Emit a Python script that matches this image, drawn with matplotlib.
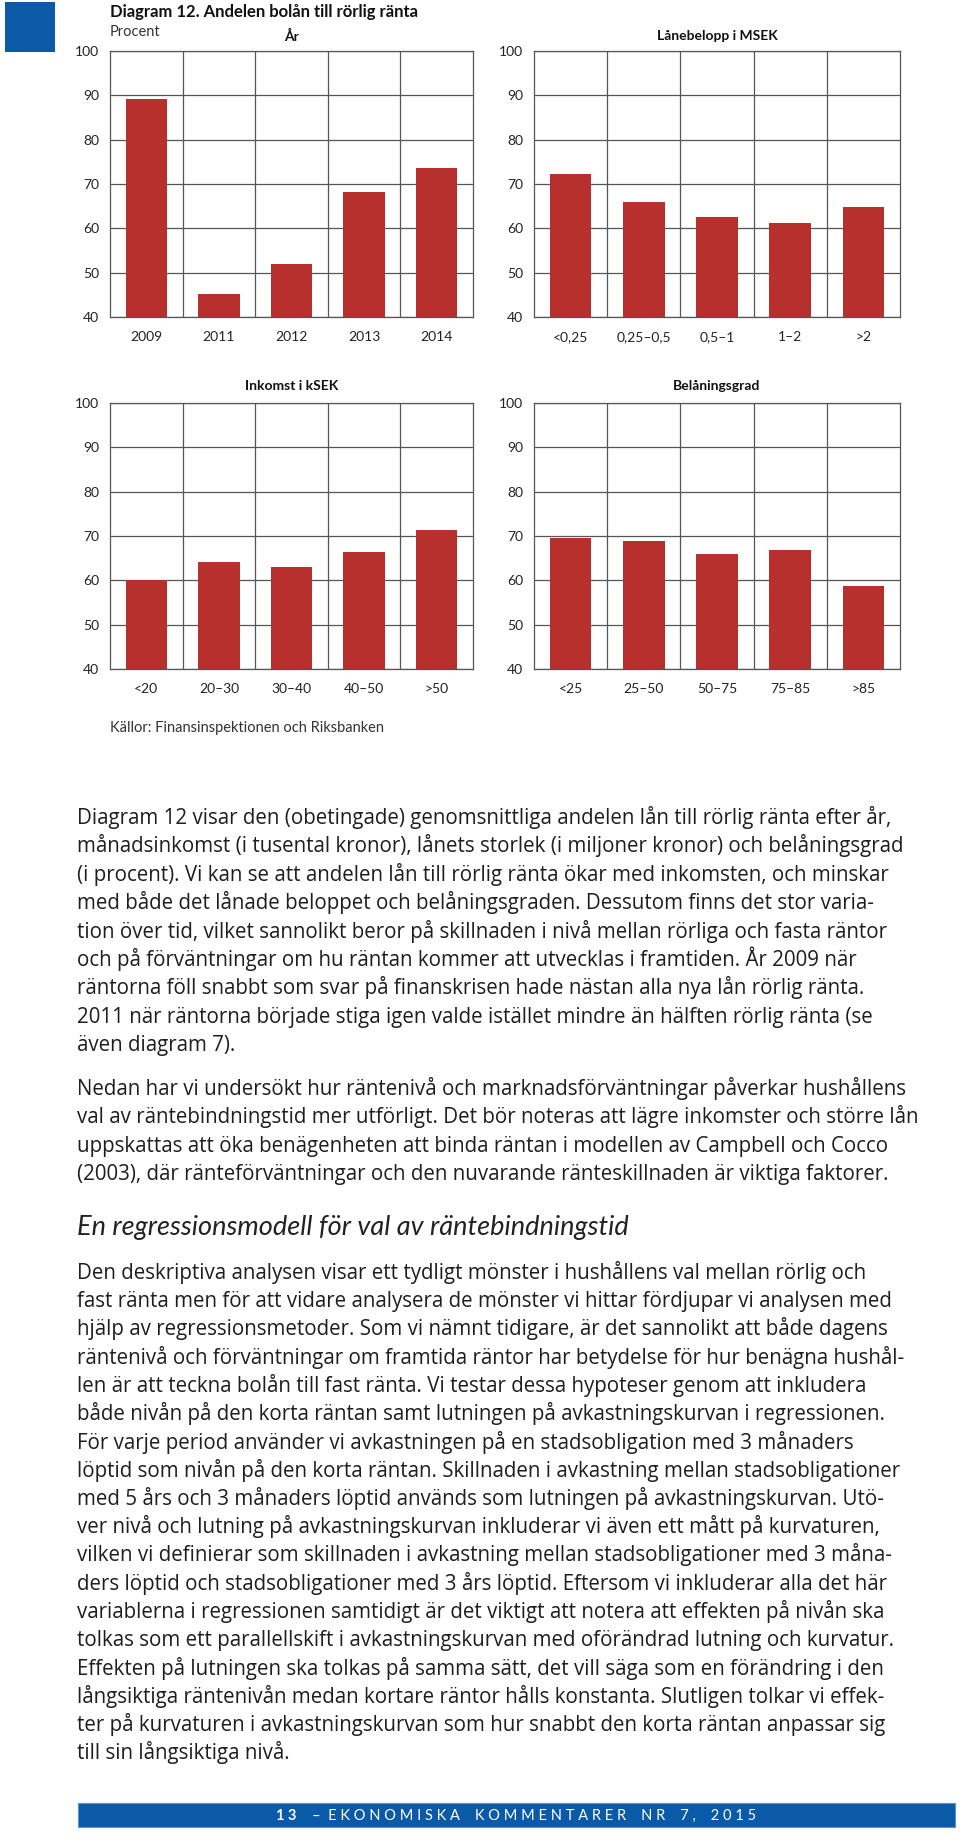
import matplotlib
matplotlib.use('Agg')
import matplotlib.pyplot as plt
from matplotlib.patches import Rectangle

W, H = 960, 1837

# --- chart data (andel lån till rörlig ränta, procent) ---
ar_labels = ['2009', '2011', '2012', '2013', '2014']
ar_values = [89.2, 45.2, 51.9, 68.1, 73.7]

lan_labels = ['<0,25', '0,25–0,5', '0,5–1', '1–2', '>2']
lan_values = [72.2, 65.9, 62.6, 61.1, 64.7]

ink_labels = ['<20', '20–30', '30–40', '40–50', '>50']
ink_values = [60.1, 64.2, 62.9, 66.3, 71.3]

bel_labels = ['<25', '25–50', '50–75', '75–85', '>85']
bel_values = [69.5, 68.8, 65.9, 66.9, 58.8]

y_ticks = [40, 50, 60, 70, 80, 90, 100]

# --- body text ---
para1 = [
    "Diagram 12 visar den (obetingade) genomsnittliga andelen lån till rörlig ränta efter år,",
    "månadsinkomst (i tusental kronor), lånets storlek (i miljoner kronor) och belåningsgrad",
    "(i procent). Vi kan se att andelen lån till rörlig ränta ökar med inkomsten, och minskar",
    "med både det lånade beloppet och belåningsgraden. Dessutom finns det stor varia-",
    "tion över tid, vilket sannolikt beror på skillnaden i nivå mellan rörliga och fasta räntor",
    "och på förväntningar om hu räntan kommer att utvecklas i framtiden. År 2009 när",
    "räntorna föll snabbt som svar på finanskrisen hade nästan alla nya lån rörlig ränta.",
    "2011 när räntorna började stiga igen valde istället mindre än hälften rörlig ränta (se",
    "även diagram 7).",
]
para2 = [
    "Nedan har vi undersökt hur räntenivå och marknadsförväntningar påverkar hushållens",
    "val av räntebindningstid mer utförligt. Det bör noteras att lägre inkomster och större lån",
    "uppskattas att öka benägenheten att binda räntan i modellen av Campbell och Cocco",
    "(2003), där ränteförväntningar och den nuvarande ränteskillnaden är viktiga faktorer.",
]
heading = "En regressionsmodell för val av räntebindningstid"
para3 = [
    "Den deskriptiva analysen visar ett tydligt mönster i hushållens val mellan rörlig och",
    "fast ränta men för att vidare analysera de mönster vi hittar fördjupar vi analysen med",
    "hjälp av regressionsmetoder. Som vi nämnt tidigare, är det sannolikt att både dagens",
    "räntenivå och förväntningar om framtida räntor har betydelse för hur benägna hushål-",
    "len är att teckna bolån till fast ränta. Vi testar dessa hypoteser genom att inkludera",
    "både nivån på den korta räntan samt lutningen på avkastningskurvan i regressionen.",
    "För varje period använder vi avkastningen på en stadsobligation med 3 månaders",
    "löptid som nivån på den korta räntan. Skillnaden i avkastning mellan stadsobligationer",
    "med 5 års och 3 månaders löptid används som lutningen på avkastningskurvan. Utö-",
    "ver nivå och lutning på avkastningskurvan inkluderar vi även ett mått på kurvaturen,",
    "vilken vi definierar som skillnaden i avkastning mellan stadsobligationer med 3 måna-",
    "ders löptid och stadsobligationer med 3 års löptid. Eftersom vi inkluderar alla det här",
    "variablerna i regressionen samtidigt är det viktigt att notera att effekten på nivån ska",
    "tolkas som ett parallellskift i avkastningskurvan med oförändrad lutning och kurvatur.",
    "Effekten på lutningen ska tolkas på samma sätt, det vill säga som en förändring i den",
    "långsiktiga räntenivån medan kortare räntor hålls konstanta. Slutligen tolkar vi effek-",
    "ter på kurvaturen i avkastningskurvan som hur snabbt den korta räntan anpassar sig",
    "till sin långsiktiga nivå.",
]

RED = '#b8302e'
BLUE = '#0b5aa8'
GRID = '#555555'
TEXT = '#1e1e1e'

plt.rcParams['font.family'] = ['Lato', 'DejaVu Sans']

fig = plt.figure(figsize=(W / 100, H / 100), dpi=100)


def fx(px):
    return px / W


def fy(py):
    return 1 - py / H


def px_axes(x0, y0, x1, y1):
    return fig.add_axes([fx(x0), fy(y1), (x1 - x0) / W, (y1 - y0) / H])


def bar_panel(ax, labels, values, title, title_y):
    """ Ett stapeldiagram med rutnät som i förlagan """
    x = list(range(len(labels)))
    ax.bar(x, values, width=0.57, color=RED, zorder=2)
    ax.set_xlim(-0.5, len(labels) - 0.5)
    ax.set_ylim(40, 100)
    ax.set_yticks(y_ticks)
    ax.set_xticks(x)
    ax.set_xticklabels(labels)
    ax.set_xticks([i + 0.5 for i in x[:-1]], minor=True)
    ax.set_axisbelow(True)
    ax.yaxis.grid(True, color=GRID, lw=0.9)
    ax.xaxis.grid(True, which='minor', color=GRID, lw=0.9)
    ax.tick_params(which='both', length=0)
    ax.tick_params(axis='y', pad=8, labelsize=10, labelcolor='#222222')
    ax.tick_params(axis='x', pad=10, labelsize=10, labelcolor='#222222')
    for sp in ax.spines.values():
        sp.set_color(GRID)
        sp.set_linewidth(0.9)
    pos = ax.get_position()
    fig.text(pos.x0 + pos.width / 2, fy(title_y), title, ha='center', va='center',
             fontsize=10, fontweight='bold', color='#111111')


ax1 = px_axes(110, 51, 473, 317)
bar_panel(ax1, ar_labels, ar_values, 'År', 36)
ax2 = px_axes(534, 51, 900, 317)
bar_panel(ax2, lan_labels, lan_values, 'Lånebelopp i MSEK', 36)
ax3 = px_axes(110, 403, 473, 669)
bar_panel(ax3, ink_labels, ink_values, 'Inkomst i kSEK', 386)
ax4 = px_axes(534, 403, 900, 669)
bar_panel(ax4, bel_labels, bel_values, 'Belåningsgrad', 386)

# blå ruta och rubrik
fig.patches.append(Rectangle((fx(5), fy(52)), 50 / W, 50 / H, transform=fig.transFigure,
                             facecolor=BLUE, edgecolor='none'))
fig.text(fx(110), fy(17), 'Diagram 12. Andelen bolån till rörlig ränta', ha='left',
         va='baseline', fontsize=12, fontweight='bold', color='#111111')
fig.text(fx(110), fy(36), 'Procent', ha='left', va='baseline', fontsize=10.5, color='#333333')
fig.text(fx(110), fy(732), 'Källor: Finansinspektionen och Riksbanken', ha='left',
         va='baseline', fontsize=10.5, color='#333333')

# brödtext
body_font = ['Open Sans', 'DejaVu Sans']
left = 77
step = 28.4
body_size = 14.8
for i, line in enumerate(para1):
    fig.text(fx(left), fy(818 + 6 + i * step), line, ha='left', va='baseline',
             fontsize=body_size, color=TEXT, family=body_font)
for i, line in enumerate(para2):
    fig.text(fx(left), fy(1089 + 6 + i * step), line, ha='left', va='baseline',
             fontsize=body_size, color=TEXT, family=body_font)
fig.text(fx(left), fy(1228 + 7), heading, ha='left', va='baseline', fontsize=19.5,
         style='italic', color='#222222')
for i, line in enumerate(para3):
    fig.text(fx(left), fy(1273 + 6 + i * 28.25), line, ha='left', va='baseline',
             fontsize=body_size, color=TEXT, family=body_font)

# sidfot
fig.patches.append(Rectangle((fx(78), fy(1827)), 877 / W, 24 / H, transform=fig.transFigure,
                             facecolor=BLUE, edgecolor='#5b93cf', lw=0.8))
fig.text(fx(276), fy(1820), '1 3', ha='left', va='baseline', fontsize=10.5,
         fontweight='bold', color='white')
footer = '–  E K O N O M I S K A    K O M M E N T A R E R    N R    7 ,    2 0 1 5'
fig.text(fx(312), fy(1820), footer, ha='left', va='baseline', fontsize=10.5, color='white')

fig.savefig('out.png', dpi=100, facecolor='white')
